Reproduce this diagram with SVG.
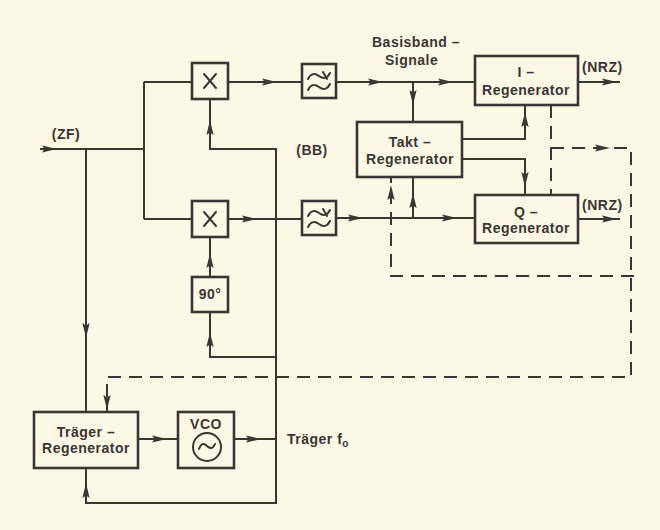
<svg xmlns="http://www.w3.org/2000/svg" xmlns:xlink="http://www.w3.org/1999/xlink" width="660" height="530" viewBox="0 0 660 530">
<style>
.box{fill:none;stroke:#3a3633;stroke-width:2.6}
.ln{fill:none;stroke:#3a3633;stroke-width:2}
.dash{fill:none;stroke:#3a3633;stroke-width:2;stroke-dasharray:13 8}
.sym{fill:none;stroke:#3a3633;stroke-width:2;stroke-linecap:round}
.ah{fill:#3a3633}
text{font-family:"Liberation Sans",Arial,sans-serif;font-weight:bold;font-size:14px;fill:#3a3633;letter-spacing:0.5px}
.c{text-anchor:middle}
</style>
<defs>
<path id="ah" d="M0,0 L-15,-3.6 L-12.5,0 L-15,3.6 Z"/>
<path id="tl" d="M-11,3 C-8,-3 -4,-3 0,0 C4,3 8,3 11,-3"/>
</defs>
<rect width="660" height="530" fill="#fdf7e6"/>

<g id="connectors">
<path class="ln" d="M40,149 H144 M144,82 V219 M144,82 H192 M144,219 H192"/>
<path class="ln" d="M86,149 V412"/>
<path class="ln" d="M228,82 H302 M228,219 H302"/>
<path class="ln" d="M210,99 V149 H276 V503 H86 V468"/>
<path class="ln" d="M210,237 V277 M210,312 V357 H276"/>
<path class="ln" d="M138,439 H178 M234,439 H276"/>
<path class="ln" d="M336,82 H475 M413,82 V122"/>
<path class="ln" d="M336,218 H475 M413,218 V177"/>
<path class="ln" d="M462,139 H525 V105 M462,159 H525 V195"/>
<path class="ln" d="M578,82 H620 M578,219 H620"/>
<path class="dash" d="M551,105 V195"/>
<path class="dash" d="M551,148 H631 V377 H107 V412"/>
<path class="dash" d="M634,276 H391 V177"/>
<g class="ah">
<use xlink:href="#ah" transform="translate(57,149)"/>
<use xlink:href="#ah" transform="translate(277,82)"/>
<use xlink:href="#ah" transform="translate(257,219)"/>
<use xlink:href="#ah" transform="translate(210,120) rotate(-90)"/>
<use xlink:href="#ah" transform="translate(210,253) rotate(-90)"/>
<use xlink:href="#ah" transform="translate(210,332) rotate(-90)"/>
<use xlink:href="#ah" transform="translate(86,338) rotate(90)"/>
<use xlink:href="#ah" transform="translate(86,483) rotate(-90)"/>
<use xlink:href="#ah" transform="translate(167,439)"/>
<use xlink:href="#ah" transform="translate(261,439)"/>
<use xlink:href="#ah" transform="translate(107,410) rotate(90)"/>
<use xlink:href="#ah" transform="translate(383,82)"/>
<use xlink:href="#ah" transform="translate(453,82)"/>
<use xlink:href="#ah" transform="translate(413,105) rotate(90)"/>
<use xlink:href="#ah" transform="translate(525,112) rotate(-90)"/>
<use xlink:href="#ah" transform="translate(525,187) rotate(90)"/>
<use xlink:href="#ah" transform="translate(363,218)"/>
<use xlink:href="#ah" transform="translate(413,193) rotate(-90)"/>
<use xlink:href="#ah" transform="translate(457,218)"/>
<use xlink:href="#ah" transform="translate(391,185) rotate(-90)"/>
<use xlink:href="#ah" transform="translate(610,148)"/>
<use xlink:href="#ah" transform="translate(617,82)"/>
<use xlink:href="#ah" transform="translate(617,219)"/>
</g>
</g>

<g id="mixer-i">
<rect class="box" x="192" y="63" width="36" height="36"/>
<path class="sym" d="M204,74 L216,88 M216,74 L204,88"/>
</g>
<g id="mixer-q">
<rect class="box" x="192" y="201" width="36" height="36"/>
<path class="sym" d="M204,212 L216,226 M216,212 L204,226"/>
</g>
<g id="phase90">
<rect class="box" x="192" y="277" width="36" height="35"/>
<text class="c" x="210" y="299">90°</text>
</g>
<g id="lowpass-i">
<rect class="box" x="302" y="64" width="34" height="34"/>
<use class="sym" xlink:href="#tl" transform="translate(319,76)"/>
<use class="sym" xlink:href="#tl" transform="translate(319,87)"/>
<path class="sym" d="M323,72 L327,79"/>
</g>
<g id="lowpass-q">
<rect class="box" x="302" y="201" width="34" height="34"/>
<use class="sym" xlink:href="#tl" transform="translate(319,213)"/>
<use class="sym" xlink:href="#tl" transform="translate(319,224)"/>
<path class="sym" d="M323,209 L327,216"/>
</g>
<g id="takt-regenerator">
<rect class="box" x="357" y="122" width="105" height="55"/>
<text class="c" x="410" y="147">Takt –</text>
<text class="c" x="410" y="164">Regenerator</text>
</g>
<g id="i-regenerator">
<rect class="box" x="475" y="56" width="103" height="49"/>
<text class="c" x="526" y="77">I –</text>
<text class="c" x="526" y="95">Regenerator</text>
</g>
<g id="q-regenerator">
<rect class="box" x="475" y="195" width="103" height="48"/>
<text class="c" x="526" y="217">Q –</text>
<text class="c" x="526" y="233">Regenerator</text>
</g>
<g id="traeger-regenerator">
<rect class="box" x="34" y="412" width="104" height="56"/>
<text class="c" x="86" y="437">Träger –</text>
<text class="c" x="86" y="453">Regenerator</text>
</g>
<g id="vco">
<rect class="box" x="178" y="412" width="56" height="56"/>
<text class="c" x="206" y="429">VCO</text>
<circle class="sym" cx="207" cy="447" r="14"/>
<path class="sym" d="M199,449 C201,443 204,443 207,446 C210,449 213,449 215,444"/>
</g>

<g id="labels">
<text class="c" x="66" y="139">(ZF)</text>
<text class="c" x="312" y="155">(BB)</text>
<text x="372" y="47">Basisband –</text>
<text x="385" y="65">Signale</text>
<text x="582" y="72">(NRZ)</text>
<text x="582" y="210">(NRZ)</text>
<text x="287" y="444">Träger f<tspan font-size="10" dy="3">o</tspan></text>
</g>
</svg>
